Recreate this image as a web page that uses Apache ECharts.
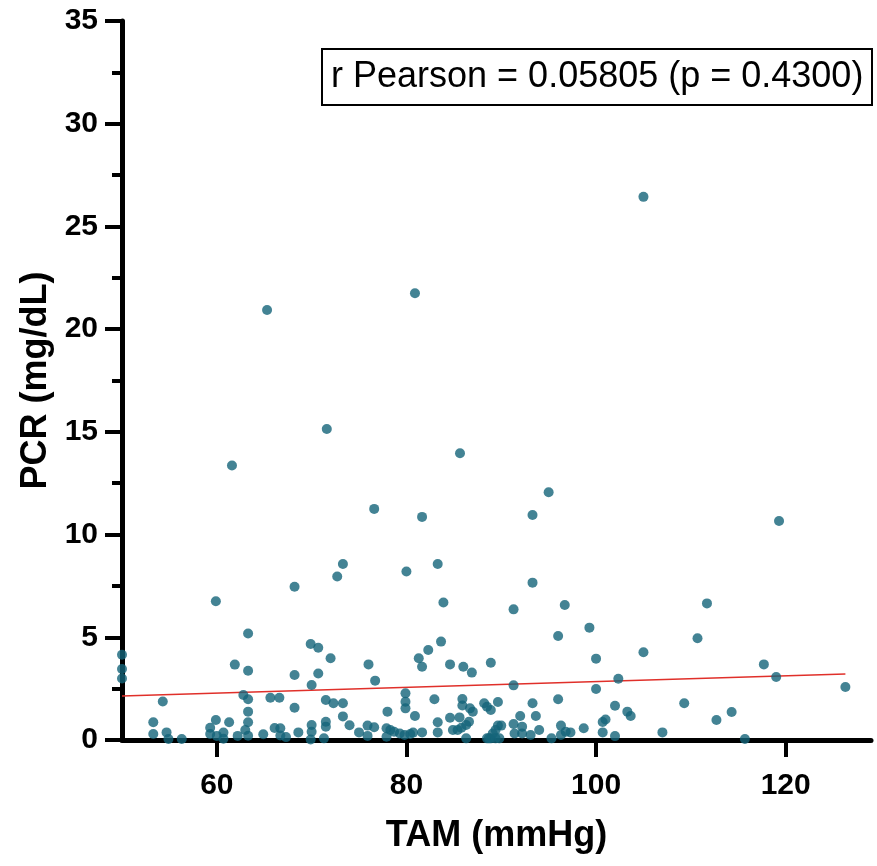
<!DOCTYPE html>
<html>
<head>
<meta charset="utf-8">
<script src="https://cdn.jsdelivr.net/npm/echarts@6/dist/echarts.min.js"></script>
<style>
  html, body { margin: 0; padding: 0; background: #fff; }
  #main { width: 877px; height: 866px; }
</style>
</head>
<body>
<div id="main"></div>
<script>
// TAM (mmHg) values
var tamValues = [
  50, 50, 50,
  53.3, 53.3, 54.3, 54.7, 54.9, 56.3,
  59.9, 59.3, 59.3, 59.9, 60.0, 60.7, 60.7, 61.3, 61.6, 61.9, 62.2,
  62.8, 63.3, 63.3, 63.3, 63.0, 63.3, 63.3, 63.3,
  64.9, 65.3, 65.65, 66.6, 66.1, 66.7, 66.7, 67.3,
  68.2, 68.2, 68.2, 68.6,
  69.9, 70.7, 72.0, 70.7, 70.0, 70.0, 70.0, 69.9, 71.3, 71.5, 71.5, 71.5, 71.6,
  72.3, 72.7, 73.3, 73.3, 73.3, 74.0, 75.0,
  75.9, 75.9, 76.6, 76.0, 76.7, 76.6,
  78.0, 77.9, 78.3, 78.7, 79.3, 77.9, 79.8, 80.4, 80.7, 79.9, 79.9, 79.9, 80.0, 80.9,
  80.9, 81.65, 81.65, 81.3, 81.65, 82.3, 82.95, 83.3, 83.3, 83.3, 83.65, 83.9,
  84.6, 84.6, 84.9, 85.4, 85.6, 85.65, 85.8, 85.9, 85.9, 86.0, 86.3, 86.6, 86.7, 87.0, 86.3, 86.9,
  88.2, 88.5, 88.9, 88.5, 88.9, 88.9, 89.65, 89.65, 90.0, 89.4, 89.1, 88.7, 89.4, 89.8,
  91.3, 91.3, 91.3, 91.4, 92.0, 92.2, 92.2, 93.1, 93.3, 93.3, 93.3, 93.65, 94.0, 95.0, 95.3,
  96.0, 96.0, 96.3, 96.3, 96.7, 96.8, 97.3,
  98.7, 99.3, 100.0, 100.0, 100.7, 101.0, 100.7, 102.0, 102.0, 102.35, 103.3, 103.65, 105.0, 105.0, 107.0,
  109.3, 110.7, 111.7, 112.7, 114.3, 115.7, 117.7, 119.0, 119.3, 126.3
];
// PCR (mg/dL) values, same order
var pcrValues = [
  4.15, 3.46, 2.99,
  0.86, 0.29, 1.87, 0.37, 0.05, 0.05,
  6.75, 0.60, 0.29, 0.97, 0.2, 0.36, 0.06, 0.86, 13.36, 3.67, 0.2,
  2.19, 1.98, 1.38, 0.86, 0.49, 0.21, 5.18, 3.37,
  0.28, 20.93, 2.06, 2.06, 0.58, 0.57, 0.22, 0.14,
  7.46, 3.16, 1.57, 0.37,
  4.67, 4.49, 3.98, 3.24, 2.68, 0.73, 0.4, 0.02, 0.08, 1.95, 0.89, 0.65, 15.14,
  1.79, 7.96, 8.57, 1.79, 1.15, 0.72, 0.37,
  0.70, 0.2, 0.62, 3.68, 2.89, 11.25,
  1.38, 0.57, 0.49, 0.4, 0.32, 0.16, 0.24, 0.29, 0.36, 2.27, 1.86, 1.54, 8.2, 21.75,
  1.17, 0.37, 10.86, 3.98, 3.57, 4.38, 1.98, 0.86, 0.37, 8.57, 4.79, 6.69,
  3.68, 1.08, 0.49, 0.49, 1.1, 13.96, 0.6, 2.0, 1.68, 3.57, 0.73, 0.89, 1.54, 1.38, 0.08, 3.28,
  1.79, 1.62, 1.46, 0.08, 0.08, 3.76, 1.85, 0.70, 0.70, 0.49, 0.32, 0.08, 0.08, 0.08,
  6.36, 2.66, 0.78, 0.32, 1.17, 0.65, 0.32, 0.24, 1.79, 7.66, 10.95, 1.17, 0.49, 12.06, 0.08,
  5.06, 1.98, 0.7, 0.24, 6.57, 0.4, 0.37,
  0.57, 5.47, 3.96, 2.48, 0.88, 1.0, 0.37, 1.67, 0.19, 2.98, 1.38, 1.17, 4.27, 26.44, 0.37,
  1.79, 4.95, 6.65, 0.97, 1.36, 0.05, 3.68, 3.07, 10.66, 2.58
];
// regression line end points
var fitX = [50, 126.3];
var fitY = [2.14, 3.21];
var xTicks = [60, 80, 100, 120];
var statText = 'r Pearson = 0.05805 (p = 0.4300)';

var points = tamValues.map(function (x, i) { return [x, pcrValues[i]]; });
var fitLine = fitX.map(function (x, i) { return [x, fitY[i]]; });

var myChart = echarts.init(document.getElementById('main'));
var fontName = 'Liberation Sans, Arial, sans-serif';
myChart.setOption({
  animation: false,
  backgroundColor: '#fff',
  title: {
    text: statText,
    left: 322,
    top: 49,
    borderColor: '#000',
    borderWidth: 2,
    padding: [8, 9, 8, 9],
    textStyle: {
      fontFamily: fontName,
      fontSize: 36,
      fontWeight: 'normal',
      color: '#000',
      lineHeight: 40
    }
  },
  grid: { left: 122, right: 6, top: 21, bottom: 126 },
  xAxis: {
    type: 'value',
    min: 50,
    max: 129,
    name: 'TAM (mmHg)',
    nameLocation: 'middle',
    nameGap: 78,
    nameTextStyle: { fontFamily: fontName, fontSize: 36, fontWeight: 'bold', color: '#000' },
    axisLine: { lineStyle: { color: '#000', width: 5 } },
    axisTick: { customValues: xTicks, length: 17, lineStyle: { color: '#000', width: 4 } },
    axisLabel: {
      customValues: xTicks, margin: 31,
      fontFamily: fontName, fontSize: 30, fontWeight: 'bold', color: '#000'
    },
    splitLine: { show: false }
  },
  yAxis: {
    type: 'value',
    min: 0,
    max: 35,
    interval: 5,
    name: 'PCR (mg/dL)',
    nameLocation: 'middle',
    nameGap: 68,
    nameTextStyle: { fontFamily: fontName, fontSize: 36, fontWeight: 'bold', color: '#000' },
    axisLine: { show: true, lineStyle: { color: '#000', width: 5 } },
    axisTick: { show: true, length: 17, lineStyle: { color: '#000', width: 4 } },
    minorTick: { show: true, splitNumber: 2, length: 10, lineStyle: { color: '#000', width: 4 } },
    axisLabel: { margin: 24, fontFamily: fontName, fontSize: 30, fontWeight: 'bold', color: '#000' },
    splitLine: { show: false }
  },
  series: [
    {
      type: 'scatter',
      data: points,
      symbolSize: 10,
      itemStyle: { color: '#146479' },
      z: 3
    },
    {
      type: 'line',
      data: fitLine,
      symbol: 'none',
      lineStyle: { color: '#e0302a', width: 1.5 },
      z: 2
    }
  ]
});
</script>
</body>
</html>
